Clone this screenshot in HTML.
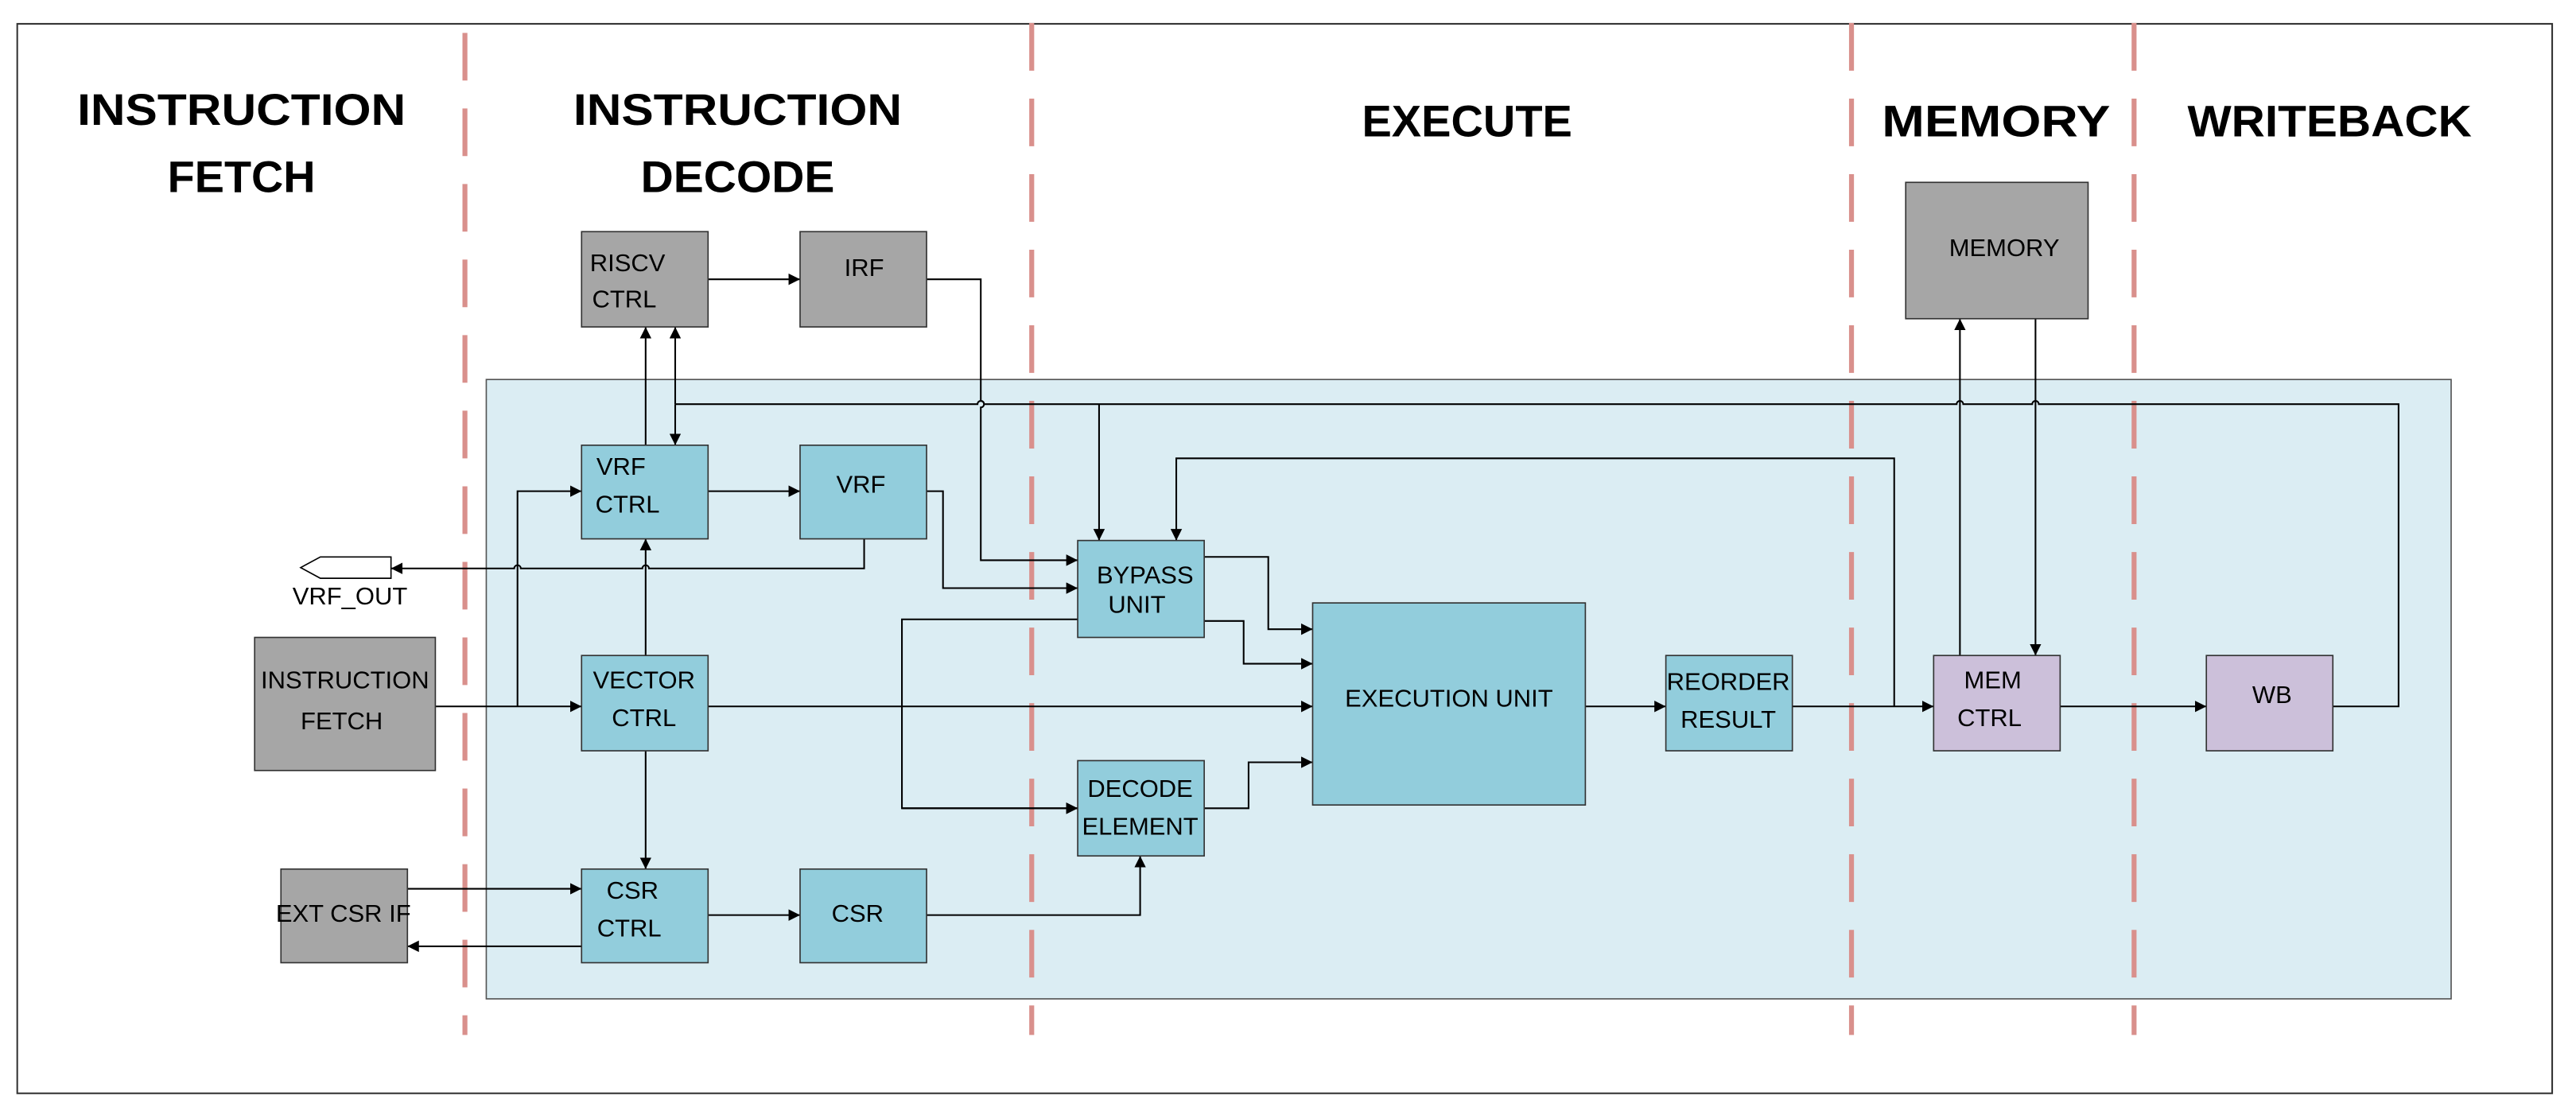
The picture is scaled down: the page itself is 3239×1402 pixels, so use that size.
<!DOCTYPE html>
<html><head><meta charset="utf-8"><style>
html,body{margin:0;padding:0;background:#fff;}
svg{display:block;}
text{font-family:"Liberation Sans",sans-serif;fill:#000;}
.h{font-weight:bold;font-size:27px;}
.b{font-size:15px;}
.ln{fill:none;stroke:#000;stroke-width:1;}
.dash{stroke:#d9908c;stroke-width:3;stroke-dasharray:29 17;}
.gray{fill:#a6a6a6;stroke:#333;stroke-width:0.8;}
.blue{fill:#92cddc;stroke:#333;stroke-width:0.8;}
.lav{fill:#ccc0da;stroke:#333;stroke-width:0.8;}
</style></head><body>
<svg width="3239" height="1402" viewBox="0 0 1568 678.7" preserveAspectRatio="none" xmlns="http://www.w3.org/2000/svg">
<defs><marker id="a" viewBox="0 0 10 10" refX="10" refY="5" markerWidth="7" markerHeight="7" markerUnits="userSpaceOnUse" orient="auto"><path d="M0,0L10,5L0,10z" fill="#000"/></marker></defs>
<rect x="0" y="0" width="1568" height="679" fill="#fff"/>
<rect x="10.5" y="14.5" width="1543" height="651" fill="none" stroke="#333" stroke-width="1"/>
<rect x="296" y="231" width="1196" height="377" fill="#dbedf3" stroke="#555" stroke-width="0.8"/>
<g class="dash">
<line x1="283" y1="20" x2="283" y2="630"/>
<line x1="628" y1="14" x2="628" y2="630"/>
<line x1="1127" y1="14" x2="1127" y2="630"/>
<line x1="1299" y1="14" x2="1299" y2="630"/>
</g>
<g class="h" text-anchor="middle">
<text x="147" y="76" textLength="200" lengthAdjust="spacingAndGlyphs">INSTRUCTION</text>
<text x="147" y="117" textLength="90" lengthAdjust="spacingAndGlyphs">FETCH</text>
<text x="449" y="76" textLength="200" lengthAdjust="spacingAndGlyphs">INSTRUCTION</text>
<text x="449" y="117" textLength="118" lengthAdjust="spacingAndGlyphs">DECODE</text>
<text x="893" y="83" textLength="128" lengthAdjust="spacingAndGlyphs">EXECUTE</text>
<text x="1215" y="83" textLength="139" lengthAdjust="spacingAndGlyphs">MEMORY</text>
<text x="1418" y="83" textLength="173" lengthAdjust="spacingAndGlyphs">WRITEBACK</text>
</g>
<g class="ln">
<line x1="431" y1="170" x2="487" y2="170" marker-end="url(#a)"/>
<path d="M564,170H597V244a2,2 0 0 1 0,4V341H656" marker-end="url(#a)"/>
<line x1="393" y1="271" x2="393" y2="199" marker-end="url(#a)"/>
<line x1="411" y1="246" x2="411" y2="199" marker-end="url(#a)"/>
<line x1="411" y1="246" x2="411" y2="271" marker-end="url(#a)"/>
<path d="M411,246H595a2,2 0 0 1 4,0H1191a2,2 0 0 1 4,0H1237a2,2 0 0 1 4,0H1460V430H1420"/>
<line x1="669" y1="246" x2="669" y2="329" marker-end="url(#a)"/>
<line x1="431" y1="299" x2="487" y2="299" marker-end="url(#a)"/>
<path d="M564,299H574V358H656" marker-end="url(#a)"/>
<path d="M526,328V346H395a2,2 0 0 0 -4,0H317a2,2 0 0 0 -4,0H238" marker-end="url(#a)"/>
<line x1="265" y1="430" x2="354" y2="430" marker-end="url(#a)"/>
<path d="M315,430V299H354" marker-end="url(#a)"/>
<line x1="393" y1="399" x2="393" y2="328" marker-end="url(#a)"/>
<line x1="393" y1="457" x2="393" y2="529" marker-end="url(#a)"/>
<line x1="431" y1="430" x2="799" y2="430" marker-end="url(#a)"/>
<path d="M656,377H549V492H656" marker-end="url(#a)"/>
<line x1="549" y1="492" x2="656" y2="492" marker-end="url(#a)"/>
<line x1="248" y1="541" x2="354" y2="541" marker-end="url(#a)"/>
<line x1="354" y1="576" x2="248" y2="576" marker-end="url(#a)"/>
<line x1="431" y1="557" x2="487" y2="557" marker-end="url(#a)"/>
<path d="M564,557H694V521" marker-end="url(#a)"/>
<path d="M733,339H772V383H799" marker-end="url(#a)"/>
<path d="M733,378H757V404H799" marker-end="url(#a)"/>
<path d="M733,492H760V464H799" marker-end="url(#a)"/>
<line x1="965" y1="430" x2="1014" y2="430" marker-end="url(#a)"/>
<line x1="1091" y1="430" x2="1177" y2="430" marker-end="url(#a)"/>
<path d="M1153,430V279H716V329" marker-end="url(#a)"/>
<line x1="1193" y1="399" x2="1193" y2="194" marker-end="url(#a)"/>
<line x1="1239" y1="194" x2="1239" y2="399" marker-end="url(#a)"/>
<line x1="1254" y1="430" x2="1343" y2="430" marker-end="url(#a)"/>
</g>
<path d="M238,339H195L183,345.5L195,352H238Z" fill="#fff" stroke="#000" stroke-width="0.8"/>
<text class="b" x="213" y="368" text-anchor="middle">VRF_OUT</text>
<g class="b" text-anchor="middle">
<rect class="gray" x="354" y="141" width="77" height="58"/><text x="382" y="165">RISCV</text><text x="380" y="187">CTRL</text>
<rect class="gray" x="487" y="141" width="77" height="58"/><text x="526" y="168">IRF</text>
<rect class="blue" x="354" y="271" width="77" height="57"/><text x="378" y="289">VRF</text><text x="382" y="312">CTRL</text>
<rect class="blue" x="487" y="271" width="77" height="57"/><text x="524" y="300">VRF</text>
<rect class="gray" x="155" y="388" width="110" height="81"/><text x="210" y="419">INSTRUCTION</text><text x="208" y="444">FETCH</text>
<rect class="blue" x="354" y="399" width="77" height="58"/><text x="392" y="419">VECTOR</text><text x="392" y="442">CTRL</text>
<rect class="gray" x="171" y="529" width="77" height="57"/><text x="209" y="561">EXT CSR IF</text>
<rect class="blue" x="354" y="529" width="77" height="57"/><text x="385" y="547">CSR</text><text x="383" y="570">CTRL</text>
<rect class="blue" x="487" y="529" width="77" height="57"/><text x="522" y="561">CSR</text>
<rect class="blue" x="656" y="329" width="77" height="59"/><text x="697" y="355">BYPASS</text><text x="692" y="373">UNIT</text>
<rect class="blue" x="656" y="463" width="77" height="58"/><text x="694" y="485">DECODE</text><text x="694" y="508">ELEMENT</text>
<rect class="blue" x="799" y="367" width="166" height="123"/><text x="882" y="430">EXECUTION UNIT</text>
<rect class="blue" x="1014" y="399" width="77" height="58"/><text x="1052" y="420">REORDER</text><text x="1052" y="443">RESULT</text>
<rect class="gray" x="1160" y="111" width="111" height="83"/><text x="1220" y="156">MEMORY</text>
<rect class="lav" x="1177" y="399" width="77" height="58"/><text x="1213" y="419">MEM</text><text x="1211" y="442">CTRL</text>
<rect class="lav" x="1343" y="399" width="77" height="58"/><text x="1383" y="428">WB</text>
</g>
</svg>
</body></html>
